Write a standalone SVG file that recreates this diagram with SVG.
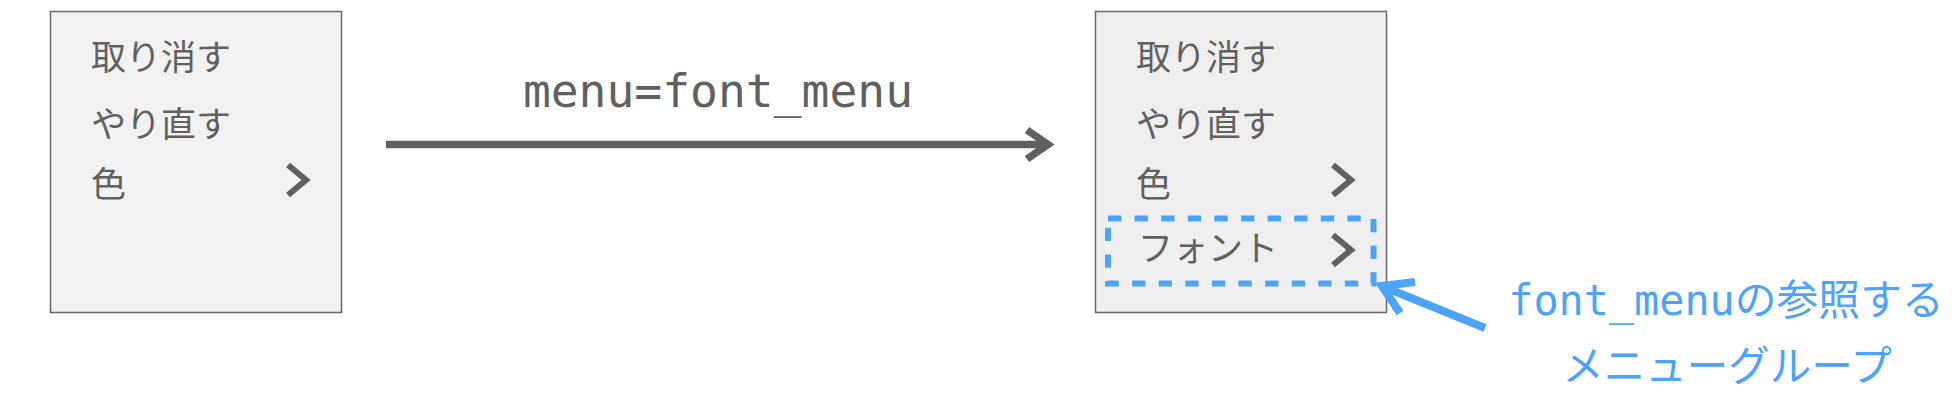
<svg xmlns="http://www.w3.org/2000/svg" width="1960" height="402" viewBox="0 0 1960 402">
<style>
.box{stroke:#666;stroke-width:1.5}
.item{font-family:"Noto Sans CJK JP","Noto Sans",sans-serif;font-size:35px;fill:#606060}
.chev{fill:none;stroke:#606060;stroke-width:6;stroke-linejoin:miter}
.mono{font-family:"DejaVu Sans Mono","Liberation Mono","Noto Sans CJK JP",monospace}
</style>
<rect width="1960" height="402" fill="#fff"/>
<g id="menu_before">
<rect class="box" x="50.5" y="11.5" width="291" height="301" fill="#f2f2f2"/>
<text class="item" x="91" y="69.5">取り消す</text>
<text class="item" x="91" y="136.5">やり直す</text>
<text class="item" x="91" y="196.5">色</text>
<polyline class="chev" points="288,165 306,180 288,195"/>
</g>
<g id="menu_after">
<rect class="box" x="1095.5" y="11.5" width="291" height="301" fill="#efefef"/>
<text class="item" x="1136" y="69.5">取り消す</text>
<text class="item" x="1136" y="136.5">やり直す</text>
<text class="item" x="1136" y="196.5">色</text>
<polyline class="chev" points="1333,165 1351,180 1333,195"/>
<rect x="1108" y="218.5" width="265.5" height="65" fill="none" stroke="#4da3f7" stroke-width="6" stroke-dasharray="13.3 13.3"/>
<text class="item" x="1138" y="261">フォント</text>
<polyline class="chev" points="1333,235 1351,250 1333,265"/>
</g>
<g id="connectors">
<line x1="386" y1="144.5" x2="1047" y2="144.5" stroke="#606060" stroke-width="7.5"/>
<polyline points="1027,130 1048,144.5 1027,159" fill="none" stroke="#606060" stroke-width="7.5"/>
<text class="mono" x="718" y="107" font-size="46.3" fill="#606060" text-anchor="middle">menu=font_menu</text>
<line x1="1485" y1="328" x2="1384" y2="287" stroke="#4da3f7" stroke-width="8"/>
<polyline points="1415,282 1382,286 1400,313" fill="none" stroke="#4da3f7" stroke-width="8"/>
</g>
<g id="annotation">
<text x="1726" y="315" font-size="41.8" fill="#4da3f7" text-anchor="middle" font-family="'DejaVu Sans Mono','Noto Sans CJK JP',monospace">font_menuの参照する</text>
<text x="1727" y="381" font-size="41.5" fill="#4da3f7" text-anchor="middle" font-family="'Noto Sans CJK JP',sans-serif">メニューグループ</text>
</g>
</svg>
